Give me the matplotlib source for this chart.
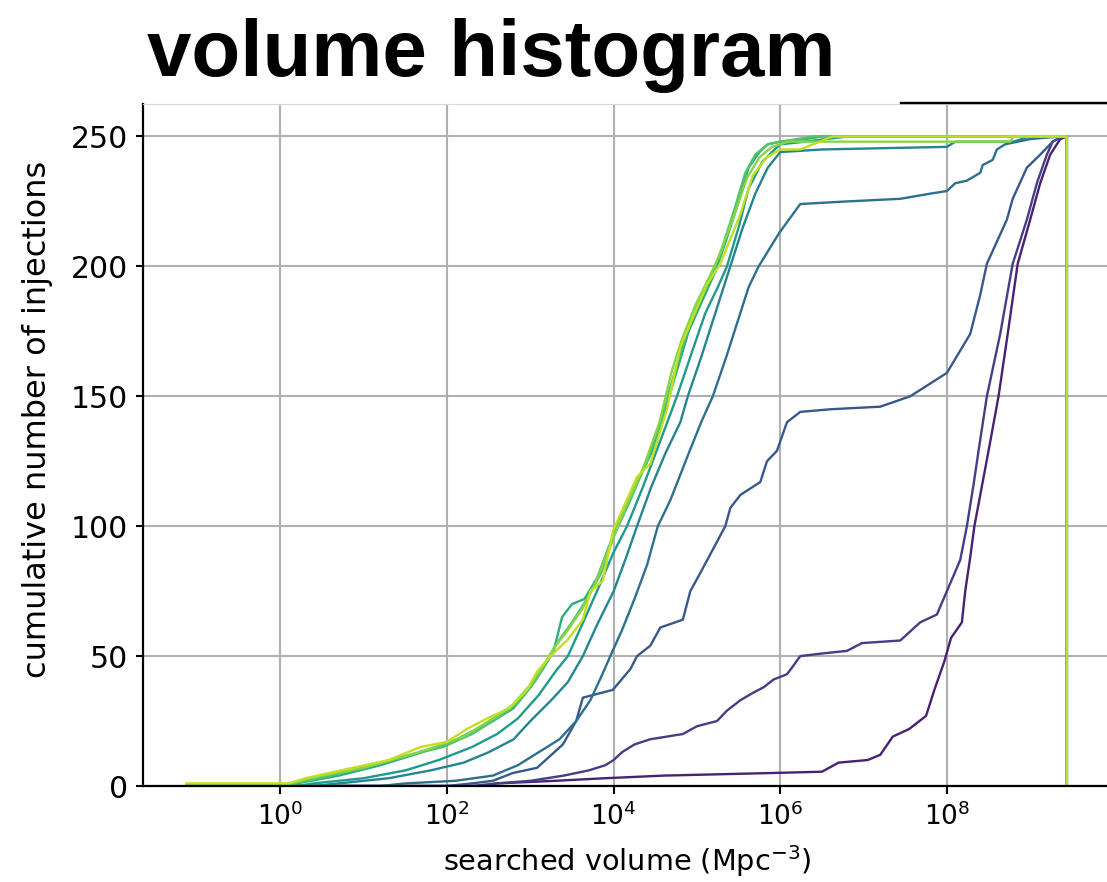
import matplotlib
matplotlib.use("Agg")
import matplotlib.pyplot as plt
import numpy as np
from matplotlib.lines import Line2D
from matplotlib.ticker import NullLocator

# --- cumulative curves: log10(searched volume), cumulative count ---
c0_logv = [-1.13, 2.4, 2.6, 3.3, 3.9, 4.6, 5.9, 6.5, 6.7, 7.05, 7.2, 7.35, 7.55, 7.75, 7.85, 7.97, 8.05,
           8.18, 8.22, 8.28, 8.33, 8.5, 8.62, 8.73, 8.85, 9.0, 9.12, 9.24, 9.36, 9.44, 9.44]
c0_n = [0, 0, 1, 2, 3, 4, 5, 5.5, 9, 10, 12, 19, 22, 27, 37, 48, 57,
        63, 75, 88, 100, 129, 150, 174, 201, 218, 232, 243, 249, 250, 0]

c1_logv = [-1.13, 2.3, 2.6, 3.0, 3.4, 3.7, 3.9, 4.0, 4.1, 4.25, 4.44, 4.83, 5.0, 5.24, 5.36, 5.52, 5.68,
           5.8, 5.92, 6.08, 6.15, 6.24, 6.5, 6.8, 6.98, 7.44, 7.68, 7.88, 8.0, 8.16, 8.24, 8.32, 8.38,
           8.48, 8.64, 8.79, 8.96, 9.08, 9.2, 9.27, 9.38, 9.44, 9.44]
c1_n = [0, 0, 1, 2, 4, 6, 8, 10, 13, 16, 18, 20, 23, 25, 29, 33, 36,
        38, 41, 43, 46, 50, 51, 52, 55, 56, 63, 66, 75, 87, 100, 116, 129,
        150, 174, 201, 218, 232, 243, 248, 250, 250, 0]

c2_logv = [-1.13, 2.0, 2.3, 2.55, 2.79, 3.08, 3.39, 3.55, 3.63, 3.99, 4.2, 4.28, 4.44, 4.56, 4.83, 4.92,
           5.04, 5.34, 5.4, 5.52, 5.76, 5.84, 5.96, 6.08, 6.24, 6.6, 7.2, 7.56, 8.0, 8.28, 8.4, 8.48,
           8.72, 8.79, 8.96, 9.12, 9.27, 9.38, 9.44, 9.44]
c2_n = [0, 0, 1, 2, 5, 7, 16, 25, 34, 37, 45, 50, 54, 61, 64, 75,
        82, 100, 107, 112, 117, 125, 129, 140, 144, 145, 146, 150, 159, 174, 189, 201,
        218, 226, 238, 243, 248, 250, 250, 0]

c3_logv = [-1.13, 1.2, 1.5, 2.1, 2.55, 2.85, 3.1, 3.35, 3.55, 3.72, 3.85, 3.96, 4.1, 4.25, 4.4, 4.53,
           4.68, 4.9, 5.05, 5.19, 5.35, 5.5, 5.62, 5.74, 5.99, 6.24, 6.8, 7.44, 7.8, 8.0, 8.1, 8.24,
           8.4, 8.43, 8.55, 8.6, 8.7, 9.0, 9.36, 9.44, 9.44]
c3_n = [0, 0, 1, 2, 4, 8, 13, 18, 25, 33, 42, 50, 60, 72, 85, 100,
        110, 128, 140, 150, 165, 180, 192, 200, 213, 224, 225, 226, 228, 229, 232, 233,
        236, 239, 241, 245, 247, 249, 250, 250, 0]

c4_logv = [-1.13, 0.4, 0.7, 1.3, 1.8, 2.2, 2.5, 2.8, 3.0, 3.25, 3.45, 3.63, 3.8, 4.0, 4.15, 4.28,
           4.45, 4.62, 4.8, 4.89, 5.05, 5.2, 5.3, 5.4, 5.55, 5.7, 5.85, 6.0, 6.5, 8.0, 8.1, 8.8,
           9.0, 9.44, 9.44]
c4_n = [0, 0, 1, 3, 6, 9, 13, 18, 25, 33, 40, 50, 62, 75, 88, 100,
        115, 128, 140, 150, 165, 180, 190, 200, 215, 228, 238, 244, 245, 246, 248, 248,
        250, 250, 0]

c5_logv = [-1.13, 0.2, 0.4, 1.0, 1.5, 1.9, 2.3, 2.6, 2.85, 3.1, 3.3, 3.45, 3.62, 3.8, 4.0, 4.16,
           4.35, 4.55, 4.76, 4.95, 5.1, 5.25, 5.36, 5.5, 5.62, 5.78, 5.9, 6.0, 6.3, 6.8, 9.44, 9.44]
c5_n = [0, 0, 1, 3, 6, 10, 15, 20, 26, 35, 44, 50, 62, 75, 90, 100,
        115, 132, 150, 168, 182, 192, 200, 215, 230, 240, 244, 247, 248, 250, 250, 0]

c6_logv = [-1.13, 0.0, 0.2, 0.7, 1.2, 1.6, 2.0, 2.3, 2.55, 2.8, 3.0, 3.15, 3.28, 3.38, 3.5, 3.65,
           3.8, 4.0, 4.25, 4.45, 4.62, 4.76, 4.9, 5.08, 5.22, 5.35, 5.5, 5.62, 5.75, 5.85, 6.0, 6.3,
           6.5, 9.44, 9.44]
c6_n = [0, 0, 1, 4, 8, 12, 16, 21, 25, 30, 38, 45, 52, 65, 70, 72,
        80, 97, 115, 128, 145, 160, 175, 188, 198, 210, 225, 238, 244, 247, 248, 249,
        250, 250, 0]

c7_logv = [-1.13, 0.0, 0.15, 0.6, 1.1, 1.55, 1.95, 2.3, 2.6, 2.85, 3.05, 3.2, 3.32, 3.5, 3.68, 3.85,
           4.0, 4.2, 4.4, 4.58, 4.72, 4.85, 5.0, 5.18, 5.3, 5.45, 5.58, 5.7, 5.85, 6.0, 6.4, 9.44, 9.44]
c7_n = [0, 0, 1, 4, 8, 12, 15, 20, 26, 32, 40, 48, 55, 63, 72, 82,
        96, 110, 125, 142, 158, 172, 185, 197, 207, 222, 236, 243, 247, 248, 250, 250, 0]

c8_logv = [-1.13, 0.0, 0.1, 0.5, 1.0, 1.45, 1.85, 2.2, 2.5, 2.78, 3.0, 3.15, 3.28, 3.45, 3.62, 3.78,
           3.95, 4.15, 4.35, 4.55, 4.7, 4.82, 4.98, 5.15, 5.28, 5.45, 5.6, 5.75, 5.9, 6.1, 8.76, 8.8,
           9.44, 9.44]
c8_n = [0, 0, 1, 4, 7, 11, 15, 19, 25, 31, 39, 46, 53, 60, 68, 78,
        92, 108, 122, 140, 160, 172, 185, 196, 205, 220, 234, 242, 246, 248, 248, 250,
        250, 0]

c9_logv = [-1.13, 0.1, 0.3, 0.87, 1.3, 1.68, 2.0, 2.24, 2.48, 2.75, 2.96, 3.08, 3.24, 3.44, 3.63, 3.72,
           3.87, 3.99, 4.28, 4.44, 4.64, 4.8, 4.88, 5.12, 5.28, 5.52, 5.67, 5.84, 6.0, 6.24, 6.63, 9.44,
           9.44]
c9_n = [1, 1, 3, 7, 10, 15, 17, 22, 26, 30, 37, 44, 50, 56, 64, 75,
        79, 98, 119, 124, 145, 169, 175, 193, 201, 220, 235, 242, 245, 245, 250, 250,
        0]

curves = [(c0_logv, c0_n), (c1_logv, c1_n), (c2_logv, c2_n), (c3_logv, c3_n), (c4_logv, c4_n),
          (c5_logv, c5_n), (c6_logv, c6_n), (c7_logv, c7_n), (c8_logv, c8_n), (c9_logv, c9_n)]
# seaborn-style viridis palette: n colours taken from the interior of the map
colors = plt.cm.viridis(np.linspace(0, 1, len(curves) + 2)[1:-1])

yticks = [0, 50, 100, 150, 200, 250]
xticks = [1e0, 1e2, 1e4, 1e6, 1e8]

# --- figure ---
fig = plt.figure(figsize=(11.07, 8.82), dpi=100)
ax = fig.add_axes([143 / 1107, 1 - 786 / 882, 968 / 1107, 682 / 882])

for (logv, n), col in zip(curves, colors):
    ax.plot(10 ** np.array(logv), n, color=col, lw=1.7)

ax.set_xscale('log')
ax.set_xlim(10 ** -1.65, 10 ** 9.97)
ax.set_ylim(0, 262.5)
ax.set_xticks(xticks)
ax.xaxis.set_minor_locator(NullLocator())
ax.set_yticks(yticks)
ax.grid(True, color='#b0b0b0', lw=1.5)
ax.set_axisbelow(True)

ax.tick_params(axis='x', labelsize=19, length=6, width=1.5, pad=6)
ax.tick_params(axis='y', labelsize=21.5, length=5, width=1.5, pad=6)
ax.spines['right'].set_visible(False)
ax.spines['top'].set_color('#d8d8d8')
ax.spines['top'].set_linewidth(0.8)
ax.spines['left'].set_linewidth(1.6)
ax.spines['bottom'].set_linewidth(1.6)

ax.set_xlabel('searched volume (Mpc$^{-3}$)', fontsize=20.7)
ax.set_ylabel('cumulative number of injections', fontsize=23)
ax.yaxis.set_label_coords(-0.093, 0.538)
ax.xaxis.set_label_coords(0.5, -0.083)

fig.text(147 / 1107, 1 - 76 / 882, 'volume histogram', fontsize=57.5, fontweight='bold',
         family=['Liberation Sans', 'DejaVu Sans'], ha='left', va='baseline')
fig.add_artist(Line2D([901 / 1107, 1.0], [1 - 103 / 882] * 2, color='black', lw=1.7,
                      transform=fig.transFigure))

fig.savefig('out.png', dpi=100)
